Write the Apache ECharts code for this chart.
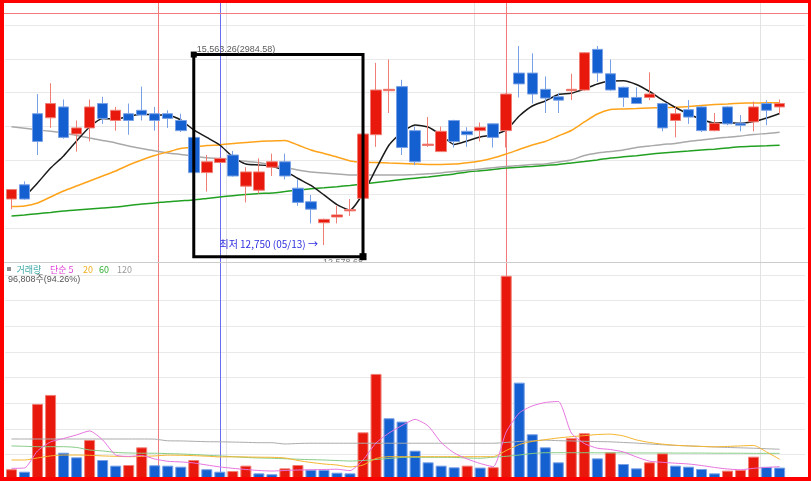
<!DOCTYPE html>
<html><head><meta charset="utf-8">
<script src="https://cdn.jsdelivr.net/npm/echarts@6/dist/echarts.min.js"></script>
<style>html,body{margin:0;padding:0;background:#fff}#c{width:811px;height:481px}</style>
</head><body><div id="c"></div>
<script>
// ---- price candles (index = trading day) ----
const opens  = [13430,13640,14690,14630,14790,14390,14480,14840,14590,14690,14740,14690,14690,14590,14340,13820,13970,14080,13620,13560,13900,13980,13590,13390,13080,13165,13255,13440,14380,15030,15090,14440,14220,14130,14590,14430,14440,14540,14440,15290,15290,15050,14940,15030,15040,15640,15280,15080,14930,14930,14840,14590,14750,14790,14440,14790,14550,14570,14840,14790];
const closes = [13570,13430,14280,14840,14340,14480,14790,14620,14740,14590,14670,14590,14620,14440,13820,13980,14030,13770,13830,13830,13980,13770,13380,13280,13130,13195,13275,14390,15040,15050,14190,13980,14240,14430,14280,14380,14490,14340,14980,15130,14980,14920,14890,15050,15590,15290,15040,14930,14840,14980,14480,14690,14640,14440,14550,14540,14520,14790,14740,14840];
const lows   = [13280,13420,14080,14480,14320,14130,14280,14540,14440,14380,14590,14440,14480,14420,13810,13540,13960,13760,13380,13510,13770,13720,13330,13070,12750,13070,13180,13430,14200,14700,14080,13930,14200,14130,14190,14200,14280,14190,14190,14930,14840,14700,14700,14890,15030,15160,15030,14790,14840,14890,14430,14340,14540,14420,14430,14520,14430,14430,14520,14690];
const highs  = [13580,13690,14980,15140,14900,14590,14900,14940,14790,14840,15090,14790,14740,14690,14350,14080,14040,14140,13900,14030,14100,14100,13720,13490,13140,13330,13430,14400,15440,15490,15190,14500,14640,14500,14600,14490,14560,14550,14990,15690,15580,15240,14990,15280,15600,15690,15490,15090,15080,15300,14850,14790,14890,14800,14700,14800,14670,14870,14890,14900];
// ---- price moving averages ----
const ma5     = [null,13460,13667,13888,14066,14287,14494,14619,14612,14649,14686,14671,14671,14597,14450,14340,14228,14051,13947,13933,13913,13844,13733,13630,13490,13346,13268,13512,13874,14228,14420,14523,14494,14376,14235,14287,14346,14376,14450,14656,14804,14878,14974,14992,15055,15129,15173,15178,15122,15018,14893,14782,14686,14605,14553,14556,14549,14575,14627,14693];
const ma20    = [13320,13327,13371,13460,13549,13623,13696,13770,13844,13933,14007,14073,14125,14176,14199,14221,14228,14250,14265,14280,14287,14295,14228,14154,14103,14051,13992,13973,13970,13962,13955,13947,13940,13940,13947,13967,13992,14036,14095,14162,14228,14280,14361,14442,14568,14686,14752,14760,14767,14775,14779,14785,14797,14812,14826,14834,14844,14848,14851,14853];
const maGray  = [14498,14475,14450,14430,14405,14368,14331,14295,14258,14213,14176,14142,14110,14088,14066,14039,14027,14007,13987,13968,13933,13896,13859,13829,13815,13800,13785,13785,13785,13785,13785,13792,13803,13815,13837,13854,13874,13893,13911,13925,13940,13947,13977,14007,14073,14110,14132,14154,14191,14213,14235,14250,14280,14302,14324,14342,14361,14383,14398,14416];
const maGreen = [13179,13194,13213,13231,13253,13268,13283,13298,13312,13335,13357,13371,13391,13404,13416,13438,13460,13479,13497,13512,13519,13541,13563,13581,13596,13612,13630,13652,13674,13696,13719,13738,13755,13778,13800,13829,13847,13866,13888,13899,13911,13925,13940,13962,13984,14007,14036,14054,14070,14091,14110,14125,14139,14154,14166,14184,14201,14209,14216,14224];
// ---- volume and its moving averages ----
const volumes = [84000,65000,594000,664000,213000,177000,312000,156000,112000,117000,255000,115000,112000,104000,156000,84000,65000,70000,112000,52000,45000,91000,117000,80000,78000,57000,52000,372000,828000,482000,456000,229000,138000,112000,99000,112000,97000,100000,1594000,760000,357000,255000,138000,326000,365000,169000,216000,125000,91000,138000,208000,112000,104000,86000,52000,73000,78000,182000,102703,96808];
const vma5   = [91000,94000,227000,297000,324000,352000,383000,313000,195000,184000,191000,164000,146000,141000,133000,117000,102000,91000,82000,74000,70000,74000,78000,80000,82000,84000,73000,156000,289000,367000,426000,473000,422000,293000,211000,164000,129000,104000,375000,523000,578000,605000,613000,367000,285000,248000,238000,219000,180000,147000,138000,131000,125000,113000,98000,86000,80000,91000,98000,104000];
const vma20  = [156000,156000,172000,188000,195000,195000,193000,188000,185000,182000,184000,188000,194000,193000,190000,186000,180000,181000,180000,178000,177000,172000,152000,137000,125000,117000,102000,117000,168000,182000,182000,182000,182000,182000,182000,182000,182000,182000,230000,277000,301000,315000,328000,338000,346000,355000,358000,344000,313000,293000,280000,271000,266000,262000,259000,262000,266000,270000,219000,162000];
const vma60  = [266000,263000,260000,260000,260000,254000,234000,227000,215000,211000,209000,209000,206000,203000,199000,193000,188000,182000,176000,172000,170000,166000,162000,159000,156000,152000,148000,152000,160000,168000,176000,177000,177000,177000,176000,172000,170000,178000,185000,195000,207000,213000,213000,213000,213000,212000,212000,212000,211000,211000,211000,210000,210000,210000,209000,209000,209000,208000,208000,208000];
const vma120 = [320000,320000,320000,320000,320000,320000,320000,320000,320000,320000,320000,319000,306000,305000,302000,299000,298000,296000,294000,291000,291000,281000,285000,287000,287000,287000,287000,287000,287000,287000,287000,287000,287000,287000,287000,287000,287000,287000,293000,301000,305000,311000,307000,305000,302000,300000,298000,293000,288000,281000,275000,270000,266000,262000,258000,254000,251000,248000,244000,240000];
// ---- axes / annotations ----
const priceAxis = {min:12500, max:16177, interval:500};
const volAxis = {min:0, max:1600000, interval:200000};
const monthBreaks = [16.5, 35.5, 57.5];
const redMarks = [11.23, 38];
const blueMarks = [16];
const boxTop = 15563.26, boxBottom = 12578.68, boxFrom = 14, boxTo = 27;
const lowDate = '05/13';

const RED='#e8190c', BLUE='#1560d0', REDB='#f07e74', BLUEB='#78a0e6';
const fmt = v => String(v).replace(/\B(?=(\d{3})+(?!\d))/g, ',');

const chart = echarts.init(document.getElementById('c'));
const lineSeries = (arr, color, w, g, z) => ({
  type:'line', xAxisIndex:g, yAxisIndex:g, z, silent:true,
  data: arr.map((v,i)=>v==null?null:[i,v]).filter(d=>d),
  showSymbol:false, symbol:'none', smooth:0.2,
  lineStyle:{color, width:w}
});
const yAx = (g, a) => ({type:'value', gridIndex:g, min:a.min, max:a.max, interval:a.interval,
  axisLine:{show:false}, axisTick:{show:false}, axisLabel:{show:false},
  splitLine:{show:true, lineStyle:{color:'#e9e9e9', width:1}}});

chart.setOption({
  animation:false,
  backgroundColor:'#ffffff',
  grid:[{left:5, top:13, width:800, height:249}, {left:5, top:275, width:800, height:205}],
  xAxis:[0,1].map(g=>({type:'value', gridIndex:g, min:-0.5, max:60.95,
    axisLine:{show:false}, axisTick:{show:false}, axisLabel:{show:false}, splitLine:{show:false}})),
  yAxis:[yAx(0, priceAxis), yAx(1, volAxis)],
  series:[
    lineSeries(maGreen, '#22a022', 1.5, 0, 2),
    lineSeries(maGray, '#a9a9a9', 1.5, 0, 2),
    lineSeries(ma20, '#ffa31a', 1.5, 0, 2),
    lineSeries(ma5, '#1a1a1a', 1.5, 0, 2),
    {type:'candlestick', xAxisIndex:0, yAxisIndex:0, z:3, barWidth:11,
      data: opens.map((o,i)=>[i, o, closes[i], lows[i], highs[i]]),
      itemStyle:{color:RED, color0:BLUE, borderColor:REDB, borderColor0:BLUEB, borderWidth:1}},
    {type:'bar', xAxisIndex:1, yAxisIndex:1, z:2, barWidth:11,
      data: volumes.map((v,i)=>{ const up = i===0 || v>=volumes[i-1];
        return {value:[i,v], itemStyle:{color: up?RED:BLUE, borderColor: up?REDB:BLUEB, borderWidth:1}}; })},
    lineSeries(vma120, '#ababab', 1, 1, 3),
    lineSeries(vma60, '#86cc86', 1, 1, 3),
    lineSeries(vma20, '#f5b52e', 1, 1, 3),
    lineSeries(vma5, '#e874de', 1, 1, 3)
  ]
});

const px = v => chart.convertToPixel({xAxisIndex:0}, v);
const py = v => chart.convertToPixel({yAxisIndex:0}, v);
const snap = v => Math.round(v) + 0.5;
const els = [];
const vline = (x, color, z) => els.push({type:'line', z, silent:true,
  shape:{x1:snap(x), y1:3, x2:snap(x), y2:478}, style:{stroke:color, lineWidth:1}});
monthBreaks.forEach(v=>vline(px(v), '#e2e2e2', 0));
redMarks.forEach(v=>vline(px(v), '#f27a7a', 1));
blueMarks.forEach(v=>vline(px(v), '#6b6bf2', 1));
const yTop = py(priceAxis.max);
els.push({type:'line', z:1, silent:true, shape:{x1:4, y1:snap(yTop), x2:808, y2:snap(yTop)}, style:{stroke:'#f27a7a', lineWidth:1}});
const ySep = py(priceAxis.min);
// box drawing
const bx0 = px(boxFrom), by0 = py(boxTop), bx1 = px(boxTo), by1 = py(boxBottom);
const T = (text, x, y, fill, font, align, vAlign, z) => els.push({type:'text', z: z||60, silent:true,
  style:{text, x, y, fill, font, align, verticalAlign:vAlign, textAlign:align, textVerticalAlign:vAlign}});
T(fmt(boxBottom.toFixed(2)).replace(/,(\d{2})$/, '$1'), bx1-40, by1+1, '#7a7a7a', '9px "Liberation Sans"', 'left', 'top', 51);
els.push({type:'rect', z:52, silent:true, shape:{x:300, y:snap(ySep)+0.5, width:70, height:5}, style:{fill:'#ffffff'}});
els.push({type:'line', z:53, silent:true, shape:{x1:4, y1:snap(ySep), x2:808, y2:snap(ySep)}, style:{stroke:'#cccccc', lineWidth:1}});
els.push({type:'rect', z:55, silent:true, shape:{x:bx0, y:by0, width:bx1-bx0, height:by1-by0}, style:{fill:'transparent', stroke:'#000000', lineWidth:3}});
els.push({type:'rect', z:56, silent:true, shape:{x:bx0-3, y:by0-3, width:6, height:6}, style:{fill:'#000000'}});
els.push({type:'rect', z:56, silent:true, shape:{x:bx1-3.5, y:by1-3.5, width:7, height:7}, style:{fill:'#000000'}});
const boxLabel = fmt(boxTop.toFixed(2).split('.')[0]) + '.' + boxTop.toFixed(2).split('.')[1] + '(' + (boxTop-boxBottom).toFixed(2) + ')';
T(boxLabel, bx0+3, by0-5.5, '#5a5a5a', '9px "Liberation Sans"', 'left', 'middle');
// lowest price label
const lowVal = Math.min(...lows), li = lows.indexOf(lowVal);
T('최저 ' + fmt(lowVal) + ' (' + lowDate + ') →', px(li)-6, py(lowVal)-1, '#2e2ee0', '10px "Noto Sans CJK KR"', 'right', 'middle');
// volume legend
els.push({type:'rect', z:60, silent:true, shape:{x:7, y:267, width:4, height:4}, style:{fill:'#8e8e8e'}});
const LF = '9px "Noto Sans CJK KR"';
T('거래량', 16.5, 269.5, '#3aa6a6', LF, 'left', 'middle');
T('단순 5', 50, 269.5, '#e040d8', LF, 'left', 'middle');
T('20', 83, 269.5, '#f0b020', LF, 'left', 'middle');
T('60', 99, 269.5, '#30b030', LF, 'left', 'middle');
T('120', 117, 269.5, '#9a9a9a', LF, 'left', 'middle');
const last = volumes[volumes.length-1], prev = volumes[volumes.length-2];
T(fmt(last) + '주(' + (last/prev*100).toFixed(2) + '%)', 8, 280, '#555555', '9px "Liberation Sans", "Noto Sans CJK KR"', 'left', 'middle');
// red frame
[[0,0,4,481],[0,0,811,3],[808,0,3,481],[0,477,811,4]].forEach(r=>els.push({type:'rect', z:100, silent:true,
  shape:{x:r[0], y:r[1], width:r[2], height:r[3]}, style:{fill:'#ff0000'}}));
chart.setOption({graphic:{elements:els}});
</script></body></html>
